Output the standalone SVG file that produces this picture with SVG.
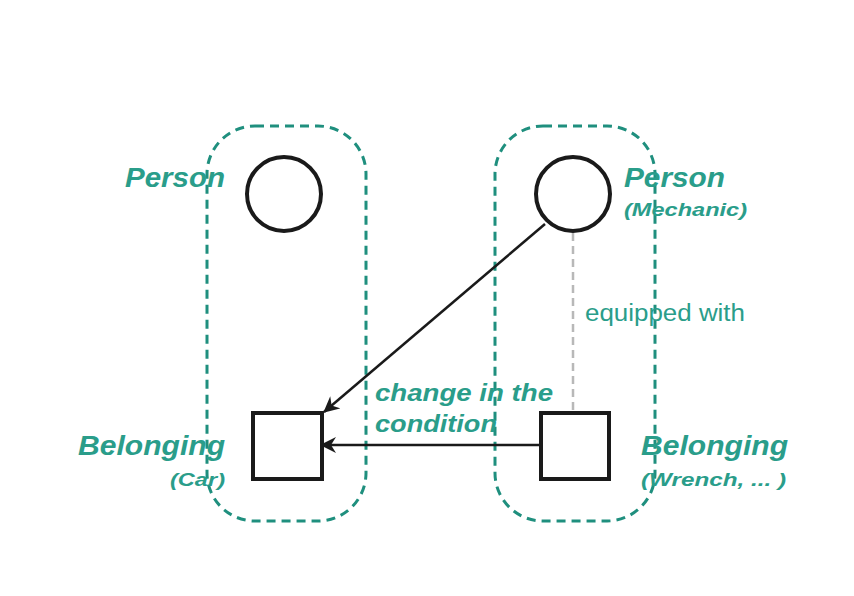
<svg xmlns="http://www.w3.org/2000/svg" width="854" height="596" viewBox="0 0 854 596">
<style>
.grp{fill:none;stroke:#1f8f7e;stroke-width:3;stroke-dasharray:9 6}
.node{fill:#fff;stroke:#1a1a1a;stroke-width:4}
.lbl{font-family:"Liberation Sans",Arial,sans-serif;fill:#2a9d8a;font-weight:bold;font-style:italic}
.edge{stroke:#1a1a1a;stroke-width:2.5;fill:none}
</style>
<defs>
<marker id="ah" markerWidth="18" markerHeight="16" refX="15" refY="8" orient="auto" markerUnits="userSpaceOnUse">
<path d="M0,0 L16,8 L0,16 L5,8 Z" fill="#1a1a1a"/>
</marker>
</defs>
<rect width="854" height="596" fill="#fff"/>
<g id="group-left"><rect class="grp" x="207" y="126" width="159" height="395" rx="48"/></g>
<g id="group-right"><rect class="grp" x="495" y="126" width="160" height="395" rx="48"/></g>
<g id="connectors">
<line x1="573" y1="233" x2="573" y2="411" stroke="#b8b8b8" stroke-width="2.5" stroke-dasharray="8 5"/>
<line class="edge" x1="545" y1="224" x2="324" y2="412" marker-end="url(#ah)"/>
<line class="edge" x1="541" y1="445" x2="321" y2="445" marker-end="url(#ah)"/>
<text class="lbl" x="375" y="401" font-size="24" textLength="178" lengthAdjust="spacingAndGlyphs">change in the</text>
<text class="lbl" x="375" y="432" font-size="24" textLength="122" lengthAdjust="spacingAndGlyphs">condition</text>
<text x="585" y="321" font-family="Liberation Sans,Arial,sans-serif" font-size="23" fill="#2a9d8a" textLength="160" lengthAdjust="spacingAndGlyphs">equipped with</text>
</g>
<g id="person-left">
<circle class="node" cx="284" cy="194" r="37"/>
<text class="lbl" x="125" y="187" font-size="27" textLength="100" lengthAdjust="spacingAndGlyphs">Person</text>
</g>
<g id="person-right">
<circle class="node" cx="573" cy="194" r="37"/>
<text class="lbl" x="624" y="187" font-size="27" textLength="101" lengthAdjust="spacingAndGlyphs">Person</text>
<text class="lbl" x="624" y="216" font-size="19" textLength="123" lengthAdjust="spacingAndGlyphs">(Mechanic)</text>
</g>
<g id="belonging-left">
<rect class="node" x="253" y="413" width="69" height="66"/>
<text class="lbl" x="78" y="455" font-size="27" textLength="147" lengthAdjust="spacingAndGlyphs">Belonging</text>
<text class="lbl" x="170" y="486" font-size="19" textLength="55" lengthAdjust="spacingAndGlyphs">(Car)</text>
</g>
<g id="belonging-right">
<rect class="node" x="541" y="413" width="68" height="66"/>
<text class="lbl" x="641" y="455" font-size="27" textLength="147" lengthAdjust="spacingAndGlyphs">Belonging</text>
<text class="lbl" x="641" y="486" font-size="19" textLength="145" lengthAdjust="spacingAndGlyphs">(Wrench, ... )</text>
</g>
</svg>
